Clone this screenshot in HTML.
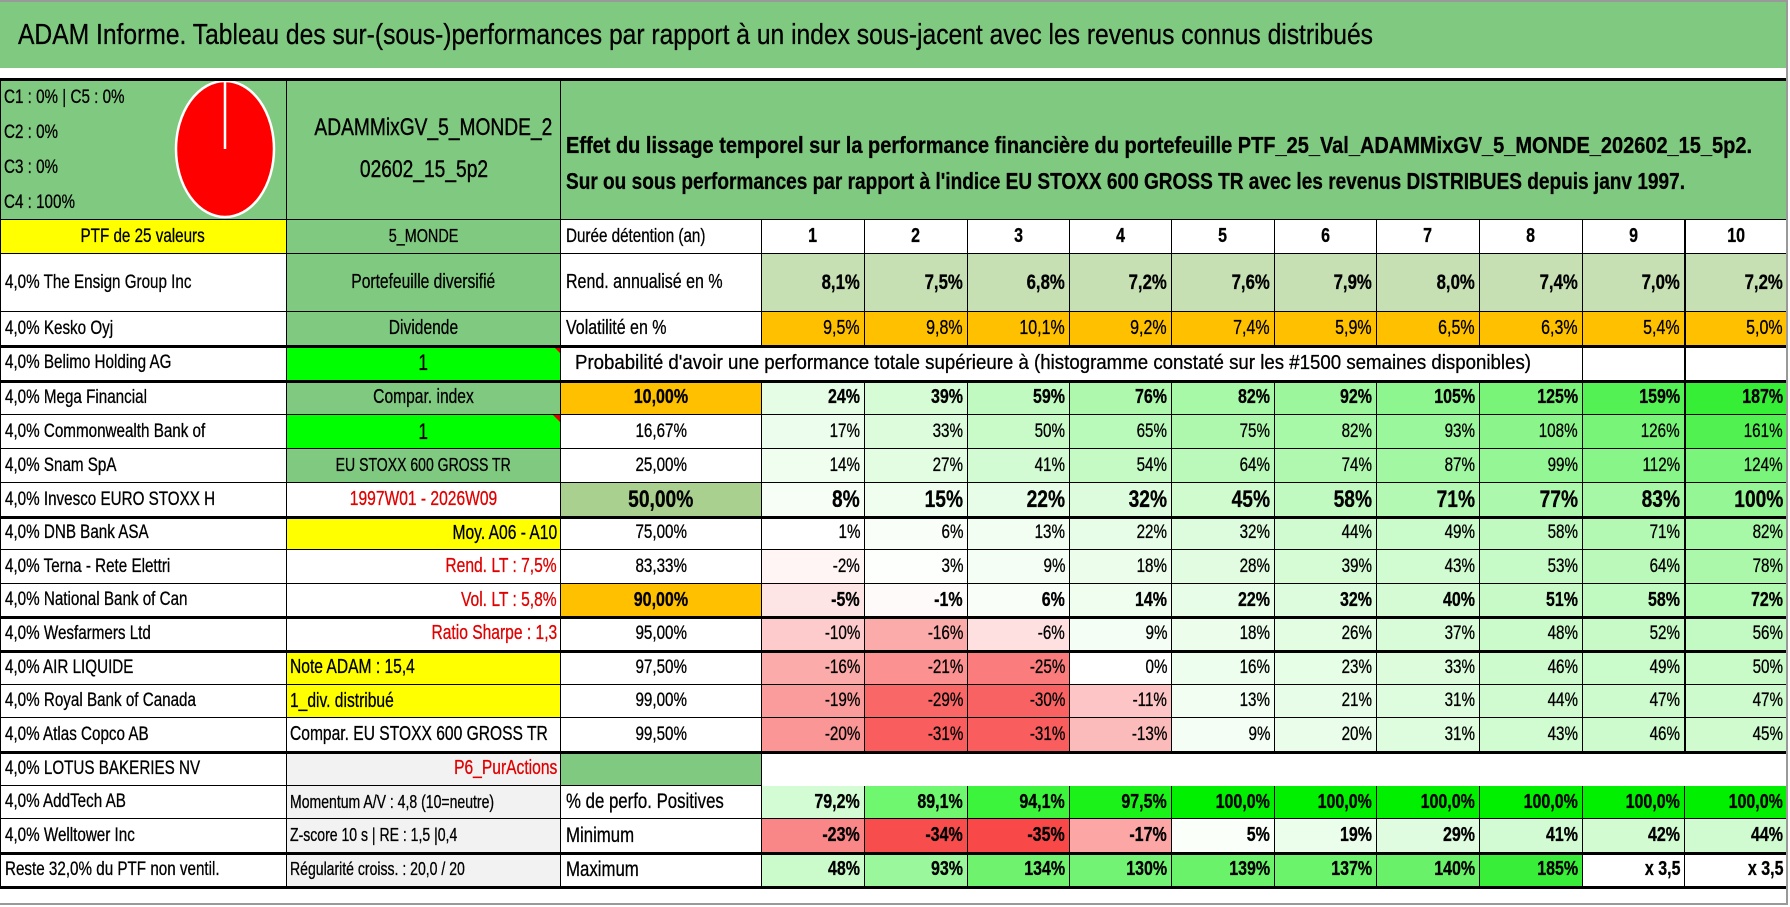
<!DOCTYPE html>
<html><head><meta charset="utf-8">
<style>
html,body{margin:0;padding:0;background:#fff;}
#root{position:relative;width:1790px;height:907px;overflow:hidden;font-family:"Liberation Sans",sans-serif;color:#000;}
.c{position:absolute;box-sizing:border-box;display:flex;align-items:center;overflow:hidden;white-space:nowrap;}
.c span{display:inline-block;white-space:nowrap;-webkit-text-stroke:0.3px currentColor;}
.ln{position:absolute;background:#000;}
</style></head>
<body>
<div id="root"></div>
<script>
// ---- data ----
const holdings = ["4,0% The Ensign Group Inc","4,0% Kesko Oyj","4,0% Belimo Holding AG","4,0% Mega Financial","4,0% Commonwealth Bank of","4,0% Snam SpA","4,0% Invesco EURO STOXX H","4,0% DNB Bank ASA","4,0% Terna - Rete Elettri","4,0% National Bank of Can","4,0% Wesfarmers Ltd","4,0% AIR LIQUIDE","4,0% Royal Bank of Canada","4,0% Atlas Copco AB","4,0% LOTUS BAKERIES NV","4,0% AddTech AB","4,0% Welltower Inc","Reste 32,0% du PTF non ventil."];
const years = ["1","2","3","4","5","6","7","8","9","10"];
const rendAnnual = [8.1,7.5,6.8,7.2,7.6,7.9,8.0,7.4,7.0,7.2];
const volatility = [9.5,9.8,10.1,9.2,7.4,5.9,6.5,6.3,5.4,5.0];
const probLevels = ["10,00%","16,67%","25,00%","50,00%","75,00%","83,33%","90,00%","95,00%","97,50%","99,00%","99,50%"];
const p10 = [24,39,59,76,82,92,105,125,159,187];
const p1667 = [17,33,50,65,75,82,93,108,126,161];
const p25 = [14,27,41,54,64,74,87,99,112,124];
const p50 = [8,15,22,32,45,58,71,77,83,100];
const p75 = [1,6,13,22,32,44,49,58,71,82];
const p8333 = [-2,3,9,18,28,39,43,53,64,78];
const p90 = [-5,-1,6,14,22,32,40,51,58,72];
const p95 = [-10,-16,-6,9,18,26,37,48,52,56];
const p975 = [-16,-21,-25,0,16,23,33,46,49,50];
const p99 = [-19,-29,-30,-11,13,21,31,44,47,47];
const p995 = [-20,-31,-31,-13,9,20,31,43,46,45];
const pctPositive = [79.2,89.1,94.1,97.5,100,100,100,100,100,100];
const minimum = [-23,-34,-35,-17,5,19,29,41,42,44];
const maximum = [48,93,134,130,139,137,140,185,350,350];

// ---- layout ----
const X=[0,287,561,762,865,968,1070,1172,1275,1377,1480,1583,1685,1788];
const Y=[220,254,312,346,381,415,449,483,517,550,584,617,651,685,718,752,786,819,853,887];
const G="#80c980";
const root=document.getElementById('root');
const S=0.8;

function mix(a,b,t){const h=s=>[1,3,5].map(i=>parseInt(s.substr(i,2),16));const A=h(a),B=h(b);return 'rgb('+A.map((v,i)=>Math.round(v+(B[i]-v)*t)).join(',')+')';}
function heat(v){if(v>=300)return '#fff';if(v>=0)return mix('#ffffff','#33ee33',Math.min(v/190,1));return mix('#ffffff','#f84848',Math.min(-v/35,1));}
function posColor(v){return mix('#ffffff','#00f000',Math.max(0,Math.min((v-75)/25,1)));}
function fmtPct(v){return v+'%';}
function fmt1(v){return v.toFixed(1).replace('.',',')+'%';}
function fmtMax(v){return v>=300?'x '+(v/100).toFixed(1).replace('.',','):v+'%';}

function cell(x1,x2,y1,y2,o){
  const d=document.createElement('div');
  d.className='c';
  
  
  d.style.left=x1+'px';d.style.top=y1+'px';d.style.width=(x2-x1)+'px';d.style.height=(y2-y1)+'px';
  d.style.background=o.bg||'#fff';
  if(o.border!==false){d.style.borderRight='1px solid #000';d.style.borderBottom='1px solid #000';}
  const al=o.align||'left';
  d.style.justifyContent=al==='left'?'flex-start':al==='right'?'flex-end':'center';
  d.style.padding=al==='left'?'0 0 0 '+(o.pad||5)+'px':al==='right'?'0 '+(o.pad||4)+'px 0 0':'0';
  if(o.text!==undefined){
    const s=document.createElement('span');
    s.textContent=o.text;
    s.style.fontSize=(o.size||19)+'px';
    s.style.fontWeight=o.bold?'bold':'normal';
    s.style.color=o.color||'#000';
    s.style.transformOrigin=al==='left'?'left center':al==='right'?'right center':'center center';
    s.style.transform='scaleX('+(o.sx||S)+')';
    if(o.fit)s.dataset.fit=o.fit;
    d.appendChild(s);
  }
  root.appendChild(d);return d;
}
function line(x,y,w,h,name){const l=document.createElement('div');l.className='ln';l.style.left=x+'px';l.style.top=y+'px';l.style.width=w+'px';l.style.height=h+'px';
  
  
  root.appendChild(l);}

// title band
cell(0,1788,2,68,{bg:G,border:false,text:"ADAM Informe. Tableau des sur-(sous-)performances par rapport à un index sous-jacent avec les revenus connus distribués",size:29,align:'left',pad:18,fit:1355,name:'report-title'});
// header block
const hA=cell(0,287,79,220,{bg:G,name:'category-breakdown'});
["C1 : 0% | C5 : 0%","C2 : 0%","C3 : 0%","C4 : 100%"].forEach((s,i)=>{const sp=document.createElement('span');sp.textContent=s;
  
  
  sp.style.cssText='position:absolute;left:4px;top:'+(8+i*35)+'px;font-size:19px;transform:scaleX(0.8);transform-origin:left center;';hA.appendChild(sp);});
const pie=document.createElementNS('http://www.w3.org/2000/svg','svg');


pie.setAttribute('width','120');pie.setAttribute('height','141');
pie.style.cssText='position:absolute;left:165px;top:0px;';
pie.innerHTML='<ellipse cx="60" cy="70" rx="49" ry="68" fill="#ff0000" stroke="#fff" stroke-width="2.5"/><line x1="60" y1="2" x2="60" y2="70" stroke="#fff" stroke-width="2.5"/>';
hA.appendChild(pie);
const hB=cell(287,561,79,220,{bg:G,name:'portfolio-name'});
["ADAMMixGV_5_MONDE_2","02602_15_5p2"].forEach((s,i)=>{const sp=document.createElement('span');sp.textContent=s;
  
  
  sp.style.cssText='position:absolute;left:0;width:274px;text-align:center;top:'+(35+i*42)+'px;font-size:24px;transform:scaleX(0.8);-webkit-text-stroke:0.4px #000;';hB.appendChild(sp);});
const hC=cell(561,1788,79,220,{bg:G,name:'description'});
[["Effet du lissage temporel sur la performance financière du portefeuille PTF_25_Val_ADAMMixGV_5_MONDE_202602_15_5p2.",1186],["Sur ou sous performances par rapport à l'indice EU STOXX 600 GROSS TR avec les revenus DISTRIBUES depuis janv 1997.",1119]].forEach((s,i)=>{const sp=document.createElement('span');sp.textContent=s[0];sp.dataset.fit=s[1];
  
  
  sp.style.cssText='position:absolute;left:5px;top:'+(53+i*36)+'px;font-size:23px;font-weight:bold;transform-origin:left center;';hC.appendChild(sp);});

// row 0
cell(0,287,Y[0],Y[1],{bg:'#ffff00',text:'PTF de 25 valeurs',align:'center',name:'portfolio-size'});
cell(287,561,Y[0],Y[1],{bg:G,text:'5_MONDE',align:'center',size:18,name:'zone-label'});
cell(561,762,Y[0],Y[1],{text:'Durée détention (an)',name:'holding-duration-label'});
years.forEach((y,i)=>cell(X[i+3],X[i+4],Y[0],Y[1],{text:y,align:'center',bold:true,size:20,name:'year-header'}));
// holdings column
holdings.forEach((h,i)=>cell(0,287,Y[i+1],Y[i+2],{text:h,name:'holding-name'}));
// column B
const colB=[
 ['Portefeuille diversifié',G,'center','#000',20],['Dividende',G,'center','#000',20],['1','#00ff00','center','#000',22],
 ['Compar. index',G,'center','#000',20],['1','#00ff00','center','#000',22],['EU STOXX 600 GROSS TR',G,'center','#000',18],
 ['1997W01 - 2026W09','#fff','center','#e00000',20],['Moy. A06 - A10','#ffff00','right','#000',20],['Rend. LT : 7,5%','#fff','right','#e00000',20],
 ['Vol. LT : 5,8%','#fff','right','#e00000',20],['Ratio Sharpe : 1,3','#fff','right','#e00000',20],['Note ADAM : 15,4','#ffff00','left','#000',20],
 ['1_div. distribué','#ffff00','left','#000',20],['Compar. EU STOXX 600 GROSS TR','#fff','left','#000',20],['P6_PurActions','#f2f2f2','right','#e00000',20],
 ['Momentum A/V : 4,8 (10=neutre)','#f2f2f2','left','#000',18],['Z-score 10 s | RE : 1,5 |0,4','#f2f2f2','left','#000',18],['Régularité croiss. : 20,0 / 20','#f2f2f2','left','#000',18]];
colB.forEach((b,i)=>{const d=cell(287,561,Y[i+1],Y[i+2],{text:b[0],bg:b[1],align:b[2],color:b[3],size:b[4],pad:3,sx:0.78,name:'portfolio-attribute'});
 if(b[0]==='1'&&b[1]==='#00ff00'){const tr=document.createElement('div');
  
  
  tr.style.cssText='position:absolute;right:0;top:0;width:0;height:0;border-left:7px solid transparent;border-top:7px solid #e00000;';d.appendChild(tr);}});
// rend / vol
cell(561,762,Y[1],Y[2],{text:'Rend. annualisé en %',size:20,name:'annual-return-label'});
rendAnnual.forEach((v,i)=>cell(X[i+3],X[i+4],Y[1],Y[2],{bg:'#c6e0b4',text:fmt1(v),align:'right',bold:true,size:21,name:'annual-return-value'}));
cell(561,762,Y[2],Y[3],{text:'Volatilité en %',size:20,name:'volatility-label'});
volatility.forEach((v,i)=>cell(X[i+3],X[i+4],Y[2],Y[3],{bg:'#ffc000',text:fmt1(v),align:'right',size:20,name:'volatility-value'}));
// prob title row
cell(561,1583,Y[3],Y[4],{text:"Probabilité d'avoir une performance totale supérieure à (histogramme constaté sur les #1500 semaines disponibles)",pad:14,size:20,fit:956,name:'probability-title'});
cell(1583,1685,Y[3],Y[4],{name:'empty-cell'});cell(1685,1788,Y[3],Y[4],{name:'empty-cell'});
// prob rows
const probRows=[p10,p1667,p25,p50,p75,p8333,p90,p95,p975,p99,p995];
const boldRows=[0,3,6];
probRows.forEach((row,r)=>{
  const yy1=Y[r+4],yy2=Y[r+5];
  const lvlBg=r===0||r===6?'#ffc000':r===3?'#a9d08e':'#fff';
  const b=boldRows.includes(r);const sz=r===3?24:b?20:19;
  cell(561,762,yy1,yy2,{bg:lvlBg,text:probLevels[r],align:'center',bold:b,size:sz,name:'probability-level'});
  row.forEach((v,i)=>cell(X[i+3],X[i+4],yy1,yy2,{bg:heat(v),text:fmtPct(v),align:'right',bold:b,size:sz,name:'probability-value'}));
});
// lotus row
cell(561,762,Y[15],Y[16],{bg:G,name:'spacer-cell'});
cell(762,1788,Y[15],Y[16],{border:false,name:'spacer-cell'});
// stats rows
cell(561,762,Y[16],Y[17],{text:'% de perfo. Positives',size:21,name:'positive-pct-label'});
pctPositive.forEach((v,i)=>cell(X[i+3],X[i+4],Y[16],Y[17],{bg:posColor(v),text:fmt1(v),align:'right',bold:true,size:20,name:'positive-pct-value'}));
cell(561,762,Y[17],Y[18],{text:'Minimum',size:21,name:'minimum-label'});
minimum.forEach((v,i)=>cell(X[i+3],X[i+4],Y[17],Y[18],{bg:heat(v),text:fmtPct(v),align:'right',bold:true,size:20,name:'minimum-value'}));
cell(561,762,Y[18],Y[19],{text:'Maximum',size:21,name:'maximum-label'});
maximum.forEach((v,i)=>cell(X[i+3],X[i+4],Y[18],Y[19],{bg:heat(v),text:fmtMax(v),align:'right',bold:true,size:20,name:'maximum-value'}));

// thick borders
[79,Y[3],Y[4],Y[8],Y[11],Y[12],Y[15],Y[18],Y[19]].forEach(y=>line(0,y-1,1788,3));
line(0,79,1,808,'left-border');
line(1684,Y[0],2,Y[15]-Y[0],'column-border');
// outer gray frame
const fr=document.createElement('div');


fr.style.cssText='position:absolute;left:0;top:0;width:1788px;height:905px;border-top:2px solid #999;border-right:2px solid #999;border-bottom:2px solid #999;box-sizing:border-box;pointer-events:none;';
root.appendChild(fr);

// fit text to measured widths
document.querySelectorAll('[data-fit]').forEach(s=>{s.style.transform='none';const w=s.getBoundingClientRect().width;const k=parseFloat(s.dataset.fit)/w;s.style.transformOrigin='left center';s.style.transform='scaleX('+k+')';});
</script>
</body></html>
